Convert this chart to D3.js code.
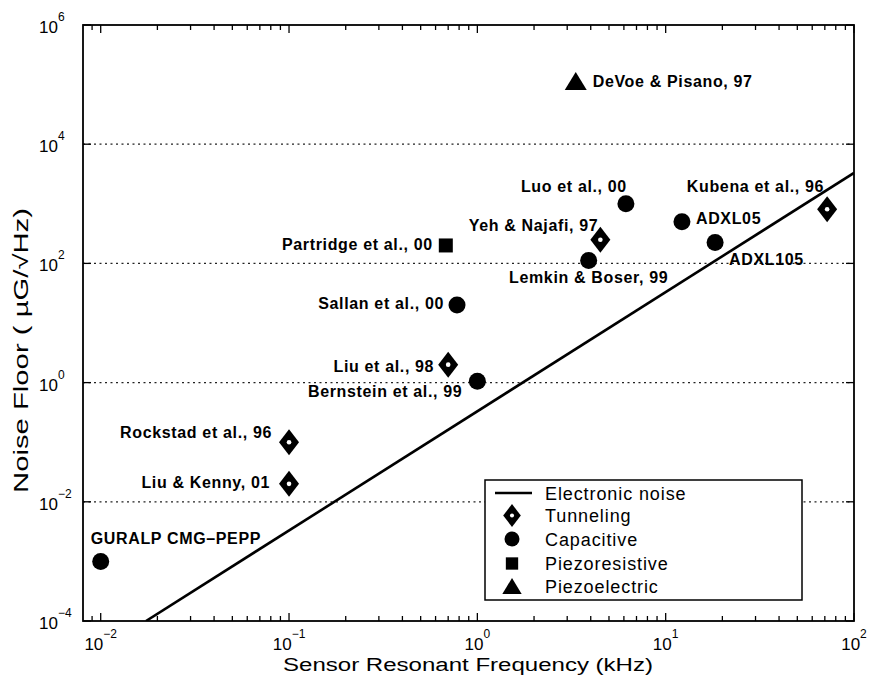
<!DOCTYPE html>
<html>
<head>
<meta charset="utf-8">
<script src="https://cdn.jsdelivr.net/npm/d3@7"></script>
<style>
  body { margin: 0; background: #fff; }
  text { font-family: "Liberation Sans", Arial, Helvetica, sans-serif; fill: #000; }
</style>
</head>
<body>
<svg id="chart" width="873" height="679"></svg>
<script>
// ---------------- data ----------------
const xTickExponents = [-2, -1, 0, 1, 2];
const yTickExponents = [-4, -2, 0, 2, 4, 6];
const gridExponents = [-2, 0, 2, 4];

const noiseFreq = [0.0174, 100];     // kHz
const noiseFloor = [1e-4, 3300];     // µG/√Hz

const tunnelingNames = ["Liu & Kenny, 01", "Rockstad et al., 96", "Liu et al., 98", "Yeh & Najafi, 97", "Kubena et al., 96"];
const tunnelingFreq  = [0.1, 0.1, 0.70, 4.5, 72];
const tunnelingNoise = [0.02, 0.1, 2.0, 250, 810];

const capacitiveNames = ["GURALP CMG–PEPP", "Bernstein et al., 99", "Sallan et al., 00", "Lemkin & Boser, 99", "Luo et al., 00", "ADXL05", "ADXL105"];
const capacitiveFreq  = [0.01, 1.0, 0.78, 3.9, 6.15, 12.2, 18.3];
const capacitiveNoise = [0.001, 1.05, 20, 112, 1000, 500, 225];

const piezoresistiveNames = ["Partridge et al., 00"];
const piezoresistiveFreq  = [0.68];
const piezoresistiveNoise = [200];

const piezoelectricNames = ["DeVoe & Pisano, 97"];
const piezoelectricFreq  = [3.33];
const piezoelectricNoise = [1.15e5];

const legendLabels = ["Electronic noise", "Tunneling", "Capacitive", "Piezoresistive", "Piezoelectric"];

// ---------------- layout (label placement relative to marker) ----------------
const labelPlacement = {
  "Liu & Kenny, 01":      { dx: -19, dy: 4,   anchor: "end" },
  "Rockstad et al., 96":  { dx: -17, dy: -4,  anchor: "end" },
  "Liu et al., 98":       { dx: -14, dy: 7,   anchor: "end" },
  "Yeh & Najafi, 97":     { dx: -2,  dy: -9,  anchor: "end" },
  "Kubena et al., 96":    { dx: -3,  dy: -17, anchor: "end" },
  "GURALP CMG–PEPP":      { dx: -10, dy: -17, anchor: "start" },
  "Bernstein et al., 99": { dx: -15, dy: 16,  anchor: "end" },
  "Sallan et al., 00":    { dx: -13, dy: 4,   anchor: "end" },
  "Lemkin & Boser, 99":   { dx: 0,   dy: 23,  anchor: "middle" },
  "Luo et al., 00":       { dx: 1,   dy: -12, anchor: "end" },
  "ADXL05":               { dx: 14,  dy: 2,   anchor: "start" },
  "ADXL105":              { dx: 14,  dy: 23,  anchor: "start" },
  "Partridge et al., 00": { dx: -13, dy: 5,   anchor: "end" },
  "DeVoe & Pisano, 97":   { dx: 17,  dy: 6,   anchor: "start" }
};

// ---------------- scales ----------------
const L = 83, R = 854, T = 25, B = 621;
const x = d3.scaleLog().domain([Math.pow(10, -2.094), 100]).range([L, R]);
const y = d3.scaleLog().domain([1e-4, 1e6]).range([B, T]);

const svg = d3.select("#chart");

svg.append("defs").append("clipPath").attr("id", "plotclip")
  .append("rect").attr("x", L).attr("y", T).attr("width", R - L).attr("height", B - T);

// gridlines
svg.append("g").selectAll("line").data(gridExponents).join("line")
  .attr("x1", L).attr("x2", R)
  .attr("y1", d => y(Math.pow(10, d))).attr("y2", d => y(Math.pow(10, d)))
  .attr("stroke", "#222").attr("stroke-width", 1.3).attr("stroke-dasharray", "2,3.5");

// noise line
const noisePts = noiseFreq.map((f, i) => [f, noiseFloor[i]]);
svg.append("path").datum(noisePts)
  .attr("clip-path", "url(#plotclip)")
  .attr("d", d3.line().x(d => x(d[0])).y(d => y(d[1])))
  .attr("fill", "none").attr("stroke", "#000").attr("stroke-width", 2.6);

// marker drawing helpers
function diamond(g, s) {
  const hw = 10 * s, hh = 13 * s;
  g.append("path").attr("d", `M0,${-hh}L${hw},0L0,${hh}L${-hw},0Z`).attr("fill", "#000");
  g.append("circle").attr("r", 2.3 * s).attr("fill", "#fff");
}
function circle(g, s) { g.append("circle").attr("r", 8.5 * s).attr("fill", "#000"); }
function square(g, s) { const h = 7 * s; g.append("rect").attr("x", -h).attr("y", -h).attr("width", 2 * h).attr("height", 2 * h).attr("fill", "#000"); }
function triangle(g, s) {
  const hw = 11 * s, hh = 9 * s;
  g.append("path").attr("d", `M0,${-hh}L${hw},${hh}L${-hw},${hh}Z`).attr("fill", "#000");
}

const groups = [
  { names: tunnelingNames, f: tunnelingFreq, n: tunnelingNoise, draw: diamond },
  { names: capacitiveNames, f: capacitiveFreq, n: capacitiveNoise, draw: circle },
  { names: piezoresistiveNames, f: piezoresistiveFreq, n: piezoresistiveNoise, draw: square },
  { names: piezoelectricNames, f: piezoelectricFreq, n: piezoelectricNoise, draw: triangle }
];

const labelLayer = svg.append("g");
groups.forEach(grp => {
  grp.names.forEach((name, i) => {
    const px = x(grp.f[i]), py = y(grp.n[i]);
    const g = svg.append("g").attr("transform", `translate(${px},${py})`);
    grp.draw(g, 1);
    const p = labelPlacement[name];
    labelLayer.append("text")
      .attr("x", px + p.dx).attr("y", py + p.dy)
      .attr("text-anchor", p.anchor)
      .attr("font-size", 16).attr("font-weight", "bold")
      .attr("letter-spacing", 0.65)
      .attr("fill", "#111")
      .text(name);
  });
});
labelLayer.raise();

// ticks
const tickG = svg.append("g").attr("stroke", "#000").attr("stroke-width", 1.3);
const xMinor = [];
for (let e = -3; e <= 1; e++) for (let m = 2; m <= 9; m++) {
  const v = m * Math.pow(10, e);
  if (v > x.domain()[0] && v < 100) xMinor.push(v);
}
xTickExponents.forEach(e => {
  const px = x(Math.pow(10, e));
  tickG.append("line").attr("x1", px).attr("x2", px).attr("y1", B).attr("y2", B - 8);
  tickG.append("line").attr("x1", px).attr("x2", px).attr("y1", T).attr("y2", T + 8);
});
xMinor.forEach(v => {
  const px = x(v);
  tickG.append("line").attr("x1", px).attr("x2", px).attr("y1", B).attr("y2", B - 5);
  tickG.append("line").attr("x1", px).attr("x2", px).attr("y1", T).attr("y2", T + 5);
});
yTickExponents.forEach(e => {
  const py = y(Math.pow(10, e));
  tickG.append("line").attr("x1", L).attr("x2", L + 8).attr("y1", py).attr("y2", py);
  tickG.append("line").attr("x1", R).attr("x2", R - 8).attr("y1", py).attr("y2", py);
});

// tick labels
xTickExponents.forEach(e => {
  const t = svg.append("text").attr("x", x(Math.pow(10, e))).attr("y", 650)
    .attr("text-anchor", "middle").attr("font-size", 17);
  t.append("tspan").text("10");
  t.append("tspan").attr("dy", -12).attr("font-size", 12).text(e < 0 ? "\u2212" + (-e) : String(e));
});
yTickExponents.forEach(e => {
  const py = y(Math.pow(10, e));
  const t = svg.append("text").attr("x", 39).attr("y", py + 8).attr("font-size", 17);
  t.append("tspan").text("10");
  t.append("tspan").attr("dy", -12).attr("font-size", 12).text(e < 0 ? "\u2212" + (-e) : String(e));
});

// axis titles
svg.append("text").attr("x", 283).attr("y", 671)
  .attr("font-size", 18).attr("textLength", 370).attr("lengthAdjust", "spacingAndGlyphs")
  .attr("fill", "#222")
  .text("Sensor Resonant Frequency (kHz)");
svg.append("text").attr("transform", "translate(28,493) rotate(-90)")
  .attr("font-size", 20).attr("textLength", 285).attr("lengthAdjust", "spacingAndGlyphs")
  .attr("fill", "#222")
  .text("Noise Floor ( µG/√Hz)");

// legend
const lg = svg.append("g");
lg.append("rect").attr("x", 485).attr("y", 480).attr("width", 317).attr("height", 120)
  .attr("fill", "#fff").attr("stroke", "#000").attr("stroke-width", 1.5);
const rowY = [493, 515.5, 539, 563.5, 586];
const legendDraw = [null, diamond, circle, square, triangle];
legendLabels.forEach((lab, i) => {
  const cy = rowY[i];
  if (i === 0) {
    lg.append("line").attr("x1", 495).attr("x2", 532).attr("y1", cy).attr("y2", cy)
      .attr("stroke", "#000").attr("stroke-width", 2.6);
  } else {
    const g = lg.append("g").attr("transform", `translate(512,${cy})`);
    legendDraw[i](g, 0.88);
  }
  lg.append("text").attr("x", 545).attr("y", cy + 6.5).attr("font-size", 18)
    .attr("letter-spacing", 0.9).attr("fill", "#111").text(lab);
});

// frame
svg.append("rect").attr("x", L).attr("y", T).attr("width", R - L).attr("height", B - T)
  .attr("fill", "none").attr("stroke", "#000").attr("stroke-width", 1.8);
</script>
</body>
</html>
